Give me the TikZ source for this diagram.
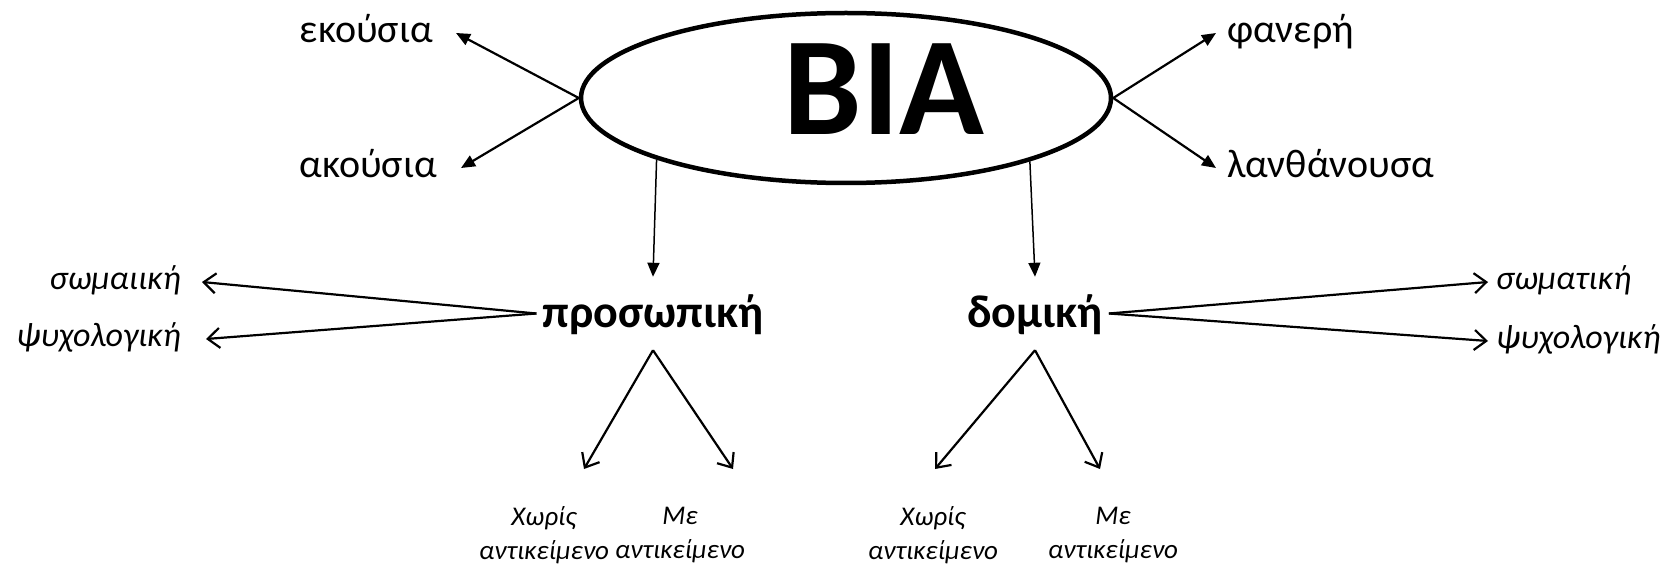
\documentclass[tikz,border=0pt]{standalone}
\usepackage{fontspec}
\setmainfont{Carlito}
\usetikzlibrary{arrows.meta,shapes.geometric}
\begin{document}
\begin{tikzpicture}[x=1pt,y=-1pt,
  ell/.style={draw, ellipse, line width=4.5pt, minimum width=530pt, minimum height=170pt, inner sep=0pt},
  big/.style={font=\fontsize{140}{140}\selectfont\bfseries, inner sep=0pt},
  toplab/.style={font=\fontsize{40}{48}\selectfont, text height=28pt, text depth=9.4pt, inner ysep=0pt},
  midlab/.style={font=\fontsize{46}{52}\selectfont\bfseries, text height=50pt, text depth=23pt, inner ysep=0pt, inner xsep=6pt},
  sidelab/.style={font=\fontsize{34}{40}\selectfont\itshape, text height=24pt, text depth=8.2pt, inner ysep=0pt},
  botlab/.style={font=\fontsize{27}{34}\selectfont\itshape, align=center, inner sep=0pt},
  farr/.style={-{Triangle[length=14pt,width=12pt]}, line width=2.2pt},
  darr/.style={-{Triangle[length=14pt,width=12pt]}, line width=1.5pt},
  oarr/.style={-{Straight Barb[length=12pt,width=20pt]}, line width=2.2pt},
]
\useasboundingbox (0,0) rectangle (1670,564);
\fill[white] (0,0) rectangle (1670,564);

\node[ell] (bia) at (846,98) {};
\node[big] (biat) at (884,89) {BIA};

\node[toplab, inner xsep=23pt, anchor=east] (ek) at (456,33) {εκούσια};
\node[toplab, inner xsep=24pt, anchor=east] (ak) at (461,168) {ακούσια};
\node[toplab, inner xsep=11pt, anchor=west] (fan) at (1216,33) {φανερή};
\node[toplab, inner xsep=11pt, anchor=west] (lan) at (1216,168) {λανθάνουσα};

\node[midlab, anchor=base] (pros) at (653,327) {προσωπική};
\node[midlab, anchor=base] (dom) at (1035,327) {δομική};

\node[sidelab, inner xsep=21pt, anchor=east] (ls) at (202,282) {σωμαιική};
\node[sidelab, inner xsep=25pt, anchor=east] (lp) at (206,339) {ψυχολογική};
\node[sidelab, inner xsep=8pt, anchor=west] (rs) at (1488,282) {σωματική};
\node[sidelab, inner xsep=8pt, anchor=west] (rp) at (1488,341) {ψυχολογική};

\node[botlab] (b1) at (544,535) {Χωρίς\\αντικείμενο};
\node[botlab] (b2) at (680,535) {Με\\αντικείμενο};
\node[botlab] (b3) at (933,535) {Χωρίς\\αντικείμενο};
\node[botlab] (b4) at (1113,535) {Με\\αντικείμενο};

\coordinate (t1) at (584,469);
\coordinate (t2) at (733,469);
\coordinate (t3) at (935,469);
\coordinate (t4) at (1100,469);

\draw[farr] (bia.west) -- (ek.east);
\draw[farr] (bia.west) -- (ak.east);
\draw[farr] (bia.east) -- (fan.west);
\draw[farr] (bia.east) -- (lan.west);
\draw[darr] (bia.198) -- (pros.north);
\draw[darr] (bia.341) -- (dom.north);
\draw[oarr] (pros.west) -- (ls.east);
\draw[oarr] (pros.west) -- (lp.east);
\draw[oarr] (dom.east) -- (rs.west);
\draw[oarr] (dom.east) -- (rp.west);
\draw[oarr] (pros.south) -- (t1);
\draw[oarr] (pros.south) -- (t2);
\draw[oarr] (dom.south) -- (t3);
\draw[oarr] (dom.south) -- (t4);
\end{tikzpicture}
\end{document}
